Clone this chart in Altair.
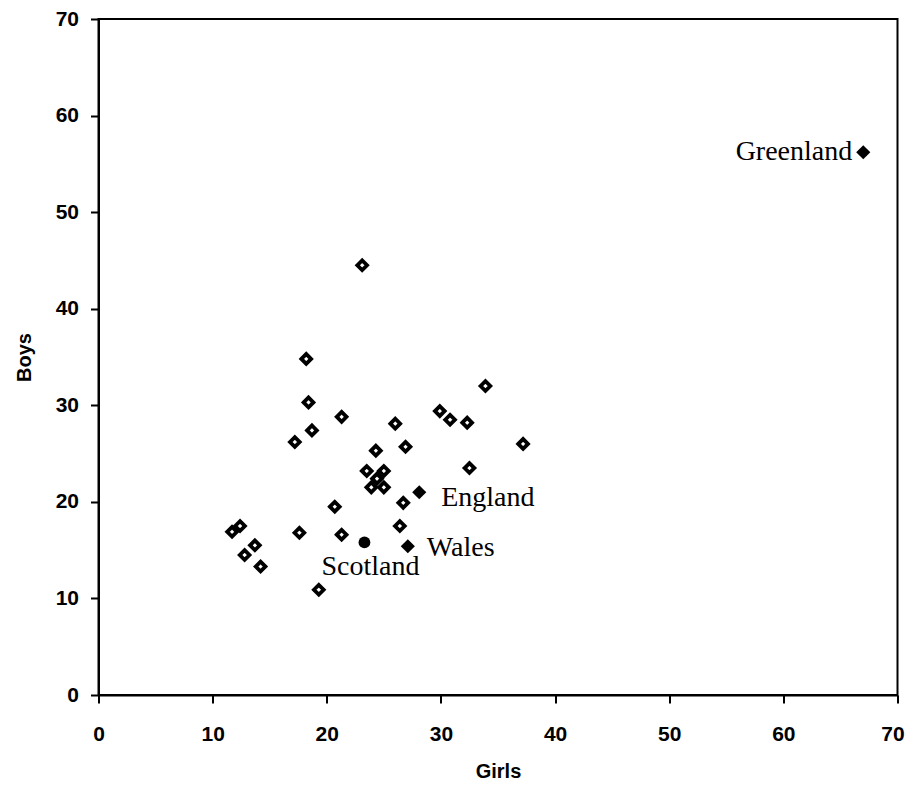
import altair as alt
import pandas as pd

# Unlabelled countries (open diamonds)
girls = [23.1, 18.2, 18.4, 21.3, 18.7, 17.2, 26.0, 33.9, 29.9, 30.8, 32.3, 37.2,
         24.3, 26.9, 32.5, 23.5, 25.0, 24.4, 23.9, 25.0, 26.7, 20.7, 26.4, 12.4,
         11.7, 17.6, 21.3, 13.7, 12.8, 14.2, 19.3]
boys = [44.5, 34.8, 30.3, 28.8, 27.4, 26.2, 28.1, 32.0, 29.4, 28.5, 28.2, 26.0,
        25.3, 25.7, 23.5, 23.2, 23.2, 22.4, 21.5, 21.5, 19.9, 19.5, 17.5, 17.5,
        16.9, 16.8, 16.6, 15.5, 14.5, 13.3, 10.9]

# Labelled countries (filled markers)
names = ["Greenland", "England", "Wales", "Scotland"]
named_girls = [67.0, 28.1, 27.1, 23.3]
named_boys = [56.2, 21.0, 15.4, 15.8]
shapes = ["diamond", "diamond", "diamond", "circle"]

x_ticks = [0, 10, 20, 30, 40, 50, 60, 70]
y_ticks = [0, 10, 20, 30, 40, 50, 60, 70]

open_df = pd.DataFrame({"Girls": girls, "Boys": boys})
named_df = pd.DataFrame({"Girls": named_girls, "Boys": named_boys,
                         "name": names, "shape": shapes})

x_enc = alt.X("Girls:Q", scale=alt.Scale(domain=[0, 70], nice=False),
              axis=alt.Axis(values=x_ticks, title="Girls", labelPadding=20,
                            titlePadding=17, labelFlush=False,
                            labelOffset={"condition": {"test": "datum.value == 70",
                                                       "value": -5},
                                         "value": 0}))
y_enc = alt.Y("Boys:Q", scale=alt.Scale(domain=[0, 70], nice=False),
              axis=alt.Axis(values=y_ticks, title="Boys", labelPadding=12,
                            titlePadding=21, labelFlush=False))

open_pts = alt.Chart(open_df).mark_point(
    shape="diamond", size=95, filled=False, stroke="black", strokeWidth=3.8,
    opacity=1
).encode(x=x_enc, y=y_enc)

filled_d = alt.Chart(named_df).transform_filter(
    alt.datum.shape == "diamond"
).mark_point(shape="diamond", size=200, filled=True, color="black",
             opacity=1).encode(x="Girls:Q", y="Boys:Q")

filled_c = alt.Chart(named_df).transform_filter(
    alt.datum.shape == "circle"
).mark_point(shape="circle", size=140, filled=True, color="black",
             opacity=1).encode(x="Girls:Q", y="Boys:Q")

def label(name, align, dx, dy):
    return alt.Chart(named_df).transform_filter(
        alt.datum.name == name
    ).mark_text(align=align, baseline="middle", dx=dx, dy=dy,
                font="Liberation Serif", fontSize=28, color="black").encode(
        x="Girls:Q", y="Boys:Q", text="name:N")

labels = [
    label("Greenland", "right", -11, 0),
    label("England", "left", 22, 6),
    label("Wales", "left", 19, 2),
    label("Scotland", "center", 6, 25),
]

chart = alt.layer(open_pts, filled_d, filled_c, *labels).properties(
    width=799, height=676,
    background="white",
    autosize=alt.AutoSizeParams(type="none"),
    padding={"left": 90.5, "top": 11, "right": 7, "bottom": 86},
).configure_view(
    stroke="black", strokeWidth=2
).configure_axis(
    domainColor="black", domainWidth=2, tickColor="black", tickWidth=2,
    tickSize=8, grid=False,
    labelFont="Liberation Sans", labelFontSize=21, labelFontWeight="bold",
    labelColor="black",
    titleFont="Liberation Sans", titleFontSize=20, titleFontWeight="bold",
    titleColor="black",
)

chart.save("out.html", embed_options={"renderer": "svg", "actions": False})
